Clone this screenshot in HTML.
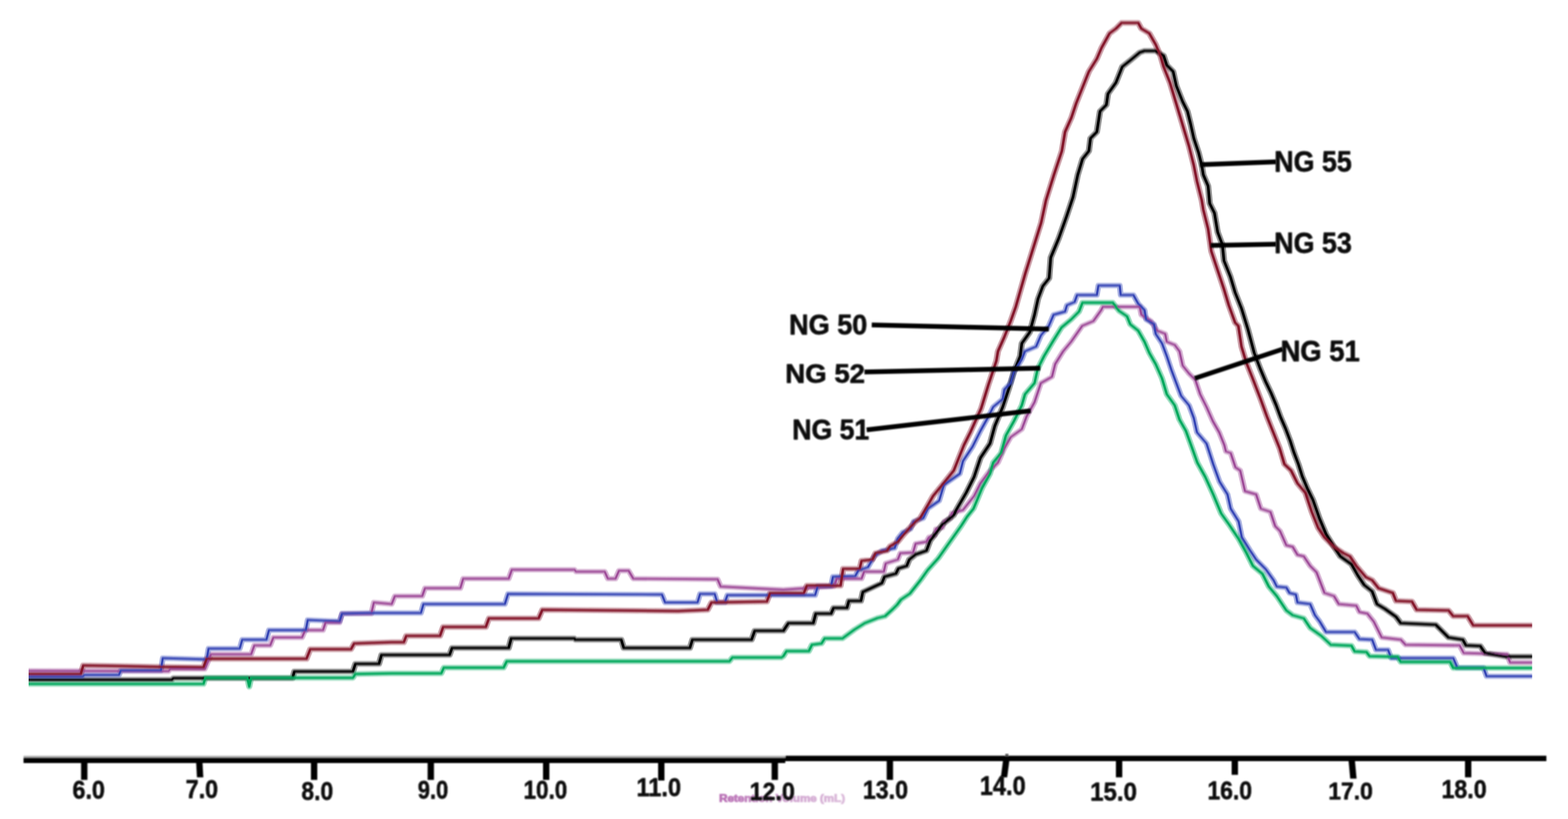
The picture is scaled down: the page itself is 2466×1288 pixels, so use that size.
<!DOCTYPE html>
<html lang="en">
<head>
<meta charset="utf-8">
<title>GPC chromatogram</title>
<style>
html,body{margin:0;padding:0;background:#fff;overflow:hidden;}
body{width:2466px;height:1288px;overflow:hidden;}
svg{display:block;}
text{font-family:"Liberation Sans",sans-serif;font-weight:bold;}
</style>
</head>
<body>
<svg width="2466" height="1288" viewBox="0 0 2466 1288">
<defs>
<filter id="soft" x="-2%" y="-2%" width="104%" height="104%"><feGaussianBlur stdDeviation="0.8"/></filter>
<filter id="softv" x="-2%" y="-2%" width="104%" height="104%"><feGaussianBlur stdDeviation="0.6 1.2"/></filter>
<linearGradient id="pinkg" gradientUnits="userSpaceOnUse" x1="1131" y1="0" x2="1330" y2="0"><stop offset="0" stop-color="#b970b5"/><stop offset="0.3" stop-color="#c58cc3"/><stop offset="0.6" stop-color="#d3a9d2"/><stop offset="1" stop-color="#dcbcdb"/></linearGradient>
<filter id="soft3" x="-5%" y="-20%" width="110%" height="140%"><feGaussianBlur stdDeviation="1.3"/></filter>
<filter id="soft2" x="-5%" y="-20%" width="110%" height="140%"><feGaussianBlur stdDeviation="1.1"/></filter>
</defs>
<rect x="0" y="0" width="2466" height="1288" fill="#ffffff"/>

<g transform="scale(1.15,1)" filter="url(#softv)" fill="none" stroke-linejoin="round" stroke-linecap="butt" stroke-opacity="0.42">
<polyline points="39.13,1055 230.43,1055.5 233.04,1052 280.00,1052 288.70,1029 343.48,1029 347.83,1015 369.57,1015 373.91,1002.5 413.04,1002.5 417.39,991 441.74,991 445.22,979 464.35,979 467.83,965 507.83,965 511.30,947.5 535.65,950 540.00,937.5 577.39,937.5 581.30,925 629.57,925 633.48,910 695.65,910 700.00,896 785.65,896 787.83,899 826.96,899 831.30,910 841.74,910 846.52,897.5 859.57,897.5 866.09,910 981.30,911 985.65,922.5 1071.30,927.5 1140.87,922 1144.35,910 1178.26,910 1181.74,899 1208.70,899 1211.30,886 1227.83,880 1231.30,870 1248.70,869 1252.17,855 1266.96,852 1270.43,845 1278.26,842 1280.00,832 1288.70,830 1291.30,820 1300.00,815 1301.74,807 1316.96,802 1332.17,780 1340.87,760 1353.91,740 1364.78,727.5 1373.48,705 1382.17,687.5 1397.39,675 1403.91,655 1414.78,632.5 1423.48,602.5 1438.70,592.5 1443.04,572.5 1453.91,552.5 1464.78,537.5 1480.00,512.5 1495.22,505 1506.09,487.5 1508.26,482.5 1558.70,482.5 1560.87,495 1573.91,505 1582.61,520 1593.48,525 1595.65,537.5 1606.52,542.5 1613.04,552.5 1617.39,575 1626.09,587.5 1634.78,597.5 1641.30,620 1650.00,640 1658.70,662.5 1667.39,680 1674.35,700 1676.52,710 1683.04,712.5 1689.57,735 1696.09,740 1702.61,772.5 1717.83,777.5 1724.35,800 1737.39,805 1743.91,827.5 1750.43,835 1759.13,857.5 1767.83,860 1774.35,872.5 1783.04,875 1791.74,890 1800.43,900 1811.30,932.5 1824.35,937.5 1830.87,950 1854.78,952.5 1859.13,962.5 1870.00,965 1878.70,977.5 1889.57,1002.5 1915.65,1006 1922.17,1014 1996.09,1015 2001.74,1027 2060.87,1029 2065.22,1042 2095.22,1042" stroke="#9d4a97" stroke-width="7.9"/>
<polyline points="39.13,1069 234.78,1069 237.39,1066.5 400.00,1066.5 402.61,1056 482.61,1056 486.09,1044 518.26,1044 521.74,1030 535.65,1030 614.78,1030 618.26,1019 695.65,1019 699.13,1004 785.22,1004 786.96,1006 849.57,1006 853.04,1019 943.48,1019 946.96,1006 1027.83,1006 1032.17,992 1071.30,992 1078.26,980 1112.17,980 1115.65,965 1136.52,965 1140.00,956 1158.26,956 1160.87,945 1177.39,945 1180.00,931 1194.78,923 1206.09,917 1209.57,907 1225.22,902 1228.70,894 1240.00,890 1243.48,880 1252.17,872 1266.96,866 1272.17,850 1288.70,825 1304.35,810 1308.70,800 1321.30,775 1332.17,750 1340.87,720 1353.91,697.5 1360.43,670 1371.30,640 1380.00,610 1386.52,585 1395.22,560 1397.39,540 1408.26,522.5 1414.78,495 1419.57,470 1426.09,450 1434.78,437.5 1436.96,405 1447.83,375 1458.70,340 1467.39,310 1473.91,275 1480.43,250 1489.13,237.5 1491.30,217.5 1500.00,207.5 1504.35,175 1513.04,165 1515.22,147.5 1526.09,130 1534.78,105 1545.65,95 1558.70,82.5 1565.22,80 1580.00,80 1591.30,87.5 1595.65,102.5 1604.35,112.5 1608.70,135 1617.39,160 1623.91,175 1628.26,195 1632.61,217.5 1639.13,240 1643.48,260 1645.65,275 1652.17,292.5 1654.35,320 1660.87,335 1665.22,365 1671.74,385 1673.91,410 1682.61,435 1689.13,460 1697.83,485 1706.52,517.5 1715.22,555 1723.48,580 1730.78,600 1738.26,618 1745.22,637 1751.30,656 1758.26,674.5 1764.35,693 1769.57,711.7 1775.65,730 1780.87,749 1787.83,768 1795.48,786 1804.35,815 1813.48,840 1824.35,860 1833.04,875 1848.26,887.5 1856.96,905 1865.65,920 1876.52,930 1883.04,950 1893.91,957.5 1909.13,970 1915.65,980 1963.48,982.5 1980.87,1002.5 2000.43,1006 2004.78,1015 2024.35,1016 2030.87,1027 2059.13,1032.5 2095.22,1032.5" stroke="#000000" stroke-width="8.7"/>
<polyline points="39.13,1064 113.04,1064 115.65,1061.5 162.61,1061.5 165.22,1054.5 220.00,1054.5 222.61,1035 282.61,1037 285.22,1020 327.83,1020 331.30,1006 364.35,1006 367.83,991 418.26,991 420.87,975 464.35,977 467.83,965 513.04,964 535.65,964 575.65,964 579.13,950 690.43,950 694.78,934 905.22,935 909.57,947.5 953.91,947.5 957.39,934 977.39,934 980.87,947.5 991.30,947.5 994.78,936 1071.30,936 1114.78,936 1118.26,922 1136.52,922 1139.13,907 1169.57,906 1173.91,897 1186.96,892 1195.65,875 1206.09,866 1223.48,862 1227.83,847 1234.78,837 1245.22,832 1249.57,820 1262.61,815 1268.70,800 1284.35,787.5 1290.87,762.5 1312.61,745 1316.96,725 1330.00,702.5 1340.87,677.5 1351.74,655 1358.26,640 1371.30,627.5 1373.48,612.5 1382.17,602.5 1386.52,585 1397.39,565 1401.74,552.5 1416.96,545 1423.48,527.5 1434.35,512.5 1440.87,495 1456.52,490 1459.13,480 1469.57,475 1473.04,464 1500.00,464 1502.17,449 1531.30,449 1532.61,464 1550.00,464 1556.52,477.5 1565.22,487.5 1567.39,502.5 1578.26,510 1580.43,525 1589.13,540 1595.65,560 1602.17,582.5 1608.70,602.5 1615.22,622.5 1626.09,637.5 1632.61,657.5 1636.96,680 1650.00,697.5 1659.13,730 1667.83,757.5 1678.70,777.5 1683.04,800 1693.91,820 1698.26,845 1709.13,865 1717.83,880 1730.87,895 1741.74,912.5 1746.09,922.5 1759.13,924 1763.48,932.5 1772.17,935 1774.35,947.5 1791.74,950 1798.26,967.5 1804.78,977.5 1813.48,994 1852.61,994 1859.13,1005 1876.52,1006 1881.74,1022 1898.26,1022 1902.61,1035 1987.39,1035 1993.04,1050 2028.70,1050 2033.04,1063.5 2095.22,1063.5" stroke="#3343b4" stroke-width="7.9"/>
<polyline points="39.13,1075.7 278.26,1075.7 280.87,1066 338.26,1066 340.87,1080 343.48,1066 482.61,1066 486.09,1060 535.65,1059 603.48,1059 606.96,1050 688.70,1050 693.04,1040 997.39,1040 1001.74,1034 1068.70,1034 1071.30,1032 1075.65,1024 1106.09,1024 1110.43,1014 1123.48,1012 1127.83,1004 1152.17,1004 1168.70,990 1182.61,980 1200.00,972 1210.43,969 1220.87,958 1226.96,951 1232.17,943 1244.35,933.5 1259.13,912 1268.70,896.5 1283.48,877.5 1294.78,859 1304.35,843.5 1314.78,826.5 1322.61,812.5 1331.30,800 1343.04,767.5 1353.91,745 1358.26,727.5 1369.13,712.5 1375.65,685 1386.52,662.5 1397.39,637.5 1401.74,620 1414.78,602.5 1419.13,580 1427.83,560 1440.87,535 1451.74,515 1464.78,502.5 1475.65,490 1480.43,476 1521.74,476 1530.43,489 1541.30,497.5 1545.65,510 1556.52,520 1565.22,537.5 1571.74,555 1580.43,572.5 1589.13,595 1595.65,620 1606.52,637.5 1613.04,660 1621.74,677.5 1630.43,705 1637.39,727.5 1648.26,750 1659.13,777.5 1670.00,807.5 1680.87,825 1693.91,847.5 1704.78,870 1713.48,890 1726.52,902.5 1735.22,922.5 1746.09,937.5 1759.13,960 1767.83,967.5 1783.04,972.5 1791.74,987.5 1806.96,1000 1820.00,1014 1848.26,1015.5 1852.61,1024.5 1868.70,1025.5 1873.04,1032 1911.30,1033 1915.65,1041 1983.04,1041 1987.39,1050.5 2095.22,1050.5" stroke="#00a85c" stroke-width="8.3"/>
<polyline points="39.13,1060 110.43,1060 113.91,1046.5 165.22,1047.5 217.39,1048.8 278.26,1049.5 282.61,1036 419.13,1036 424.35,1021 480.00,1021 484.35,1012 535.65,1010 552.17,1010 555.65,1000 601.74,1000 606.09,986 664.35,986 668.70,972.5 736.52,972.5 741.74,959 926.96,961 967.83,959 973.04,947.5 1048.70,946 1053.04,933 1071.30,933 1099.13,933 1103.48,921 1149.57,921 1153.04,894.5 1175.65,894.5 1178.26,882 1193.04,880 1197.39,870 1213.04,866 1217.39,859 1227.83,852 1234.78,842 1252.17,820 1258.26,815 1266.09,800 1276.09,780 1290.43,760 1304.35,740 1311.30,720 1318.26,700 1326.96,680 1334.78,660 1341.74,642.5 1351.74,605 1362.61,567.5 1364.78,552.5 1373.48,530 1382.17,505 1389.13,482.5 1402.17,430 1413.04,390 1423.91,350 1430.43,315 1441.30,275 1452.17,237.5 1456.52,207.5 1465.22,185 1471.74,162.5 1480.43,137.5 1489.13,112.5 1500.00,92.5 1506.52,75 1517.39,52.5 1526.09,45 1533.91,36 1556.52,36 1560.87,45 1571.74,52.5 1580.43,70 1586.96,87.5 1591.30,105 1600.00,130 1606.52,155 1613.04,180 1619.57,205 1626.09,230 1632.61,260 1636.96,285 1643.48,315 1645.65,330 1652.17,360 1656.52,395 1665.22,425 1673.91,455 1680.43,480 1689.13,507.5 1693.48,512.5 1697.83,545 1704.35,570 1713.04,595 1723.91,627.5 1732.61,655 1741.30,680 1750.00,705 1756.52,730 1765.65,740 1774.35,760 1785.22,775 1793.91,805 1802.61,830 1811.30,845 1824.35,860 1837.39,870 1846.09,875 1854.78,890 1867.83,907.5 1876.52,912.5 1885.22,925 1904.78,932.5 1909.13,945 1930.87,946 1937.39,959 1980.87,960 1987.39,969 2006.96,969 2014.78,983.5 2095.22,983.5" stroke="#84172a" stroke-width="8.5"/>
</g>
<g transform="scale(1.15,1)" filter="url(#softv)" fill="none" stroke-linejoin="round" stroke-linecap="butt">
<polyline points="39.13,1055 230.43,1055.5 233.04,1052 280.00,1052 288.70,1029 343.48,1029 347.83,1015 369.57,1015 373.91,1002.5 413.04,1002.5 417.39,991 441.74,991 445.22,979 464.35,979 467.83,965 507.83,965 511.30,947.5 535.65,950 540.00,937.5 577.39,937.5 581.30,925 629.57,925 633.48,910 695.65,910 700.00,896 785.65,896 787.83,899 826.96,899 831.30,910 841.74,910 846.52,897.5 859.57,897.5 866.09,910 981.30,911 985.65,922.5 1071.30,927.5 1140.87,922 1144.35,910 1178.26,910 1181.74,899 1208.70,899 1211.30,886 1227.83,880 1231.30,870 1248.70,869 1252.17,855 1266.96,852 1270.43,845 1278.26,842 1280.00,832 1288.70,830 1291.30,820 1300.00,815 1301.74,807 1316.96,802 1332.17,780 1340.87,760 1353.91,740 1364.78,727.5 1373.48,705 1382.17,687.5 1397.39,675 1403.91,655 1414.78,632.5 1423.48,602.5 1438.70,592.5 1443.04,572.5 1453.91,552.5 1464.78,537.5 1480.00,512.5 1495.22,505 1506.09,487.5 1508.26,482.5 1558.70,482.5 1560.87,495 1573.91,505 1582.61,520 1593.48,525 1595.65,537.5 1606.52,542.5 1613.04,552.5 1617.39,575 1626.09,587.5 1634.78,597.5 1641.30,620 1650.00,640 1658.70,662.5 1667.39,680 1674.35,700 1676.52,710 1683.04,712.5 1689.57,735 1696.09,740 1702.61,772.5 1717.83,777.5 1724.35,800 1737.39,805 1743.91,827.5 1750.43,835 1759.13,857.5 1767.83,860 1774.35,872.5 1783.04,875 1791.74,890 1800.43,900 1811.30,932.5 1824.35,937.5 1830.87,950 1854.78,952.5 1859.13,962.5 1870.00,965 1878.70,977.5 1889.57,1002.5 1915.65,1006 1922.17,1014 1996.09,1015 2001.74,1027 2060.87,1029 2065.22,1042 2095.22,1042" stroke="#9d4a97" stroke-width="2.9"/>
<polyline points="39.13,1069 234.78,1069 237.39,1066.5 400.00,1066.5 402.61,1056 482.61,1056 486.09,1044 518.26,1044 521.74,1030 535.65,1030 614.78,1030 618.26,1019 695.65,1019 699.13,1004 785.22,1004 786.96,1006 849.57,1006 853.04,1019 943.48,1019 946.96,1006 1027.83,1006 1032.17,992 1071.30,992 1078.26,980 1112.17,980 1115.65,965 1136.52,965 1140.00,956 1158.26,956 1160.87,945 1177.39,945 1180.00,931 1194.78,923 1206.09,917 1209.57,907 1225.22,902 1228.70,894 1240.00,890 1243.48,880 1252.17,872 1266.96,866 1272.17,850 1288.70,825 1304.35,810 1308.70,800 1321.30,775 1332.17,750 1340.87,720 1353.91,697.5 1360.43,670 1371.30,640 1380.00,610 1386.52,585 1395.22,560 1397.39,540 1408.26,522.5 1414.78,495 1419.57,470 1426.09,450 1434.78,437.5 1436.96,405 1447.83,375 1458.70,340 1467.39,310 1473.91,275 1480.43,250 1489.13,237.5 1491.30,217.5 1500.00,207.5 1504.35,175 1513.04,165 1515.22,147.5 1526.09,130 1534.78,105 1545.65,95 1558.70,82.5 1565.22,80 1580.00,80 1591.30,87.5 1595.65,102.5 1604.35,112.5 1608.70,135 1617.39,160 1623.91,175 1628.26,195 1632.61,217.5 1639.13,240 1643.48,260 1645.65,275 1652.17,292.5 1654.35,320 1660.87,335 1665.22,365 1671.74,385 1673.91,410 1682.61,435 1689.13,460 1697.83,485 1706.52,517.5 1715.22,555 1723.48,580 1730.78,600 1738.26,618 1745.22,637 1751.30,656 1758.26,674.5 1764.35,693 1769.57,711.7 1775.65,730 1780.87,749 1787.83,768 1795.48,786 1804.35,815 1813.48,840 1824.35,860 1833.04,875 1848.26,887.5 1856.96,905 1865.65,920 1876.52,930 1883.04,950 1893.91,957.5 1909.13,970 1915.65,980 1963.48,982.5 1980.87,1002.5 2000.43,1006 2004.78,1015 2024.35,1016 2030.87,1027 2059.13,1032.5 2095.22,1032.5" stroke="#000000" stroke-width="3.7"/>
<polyline points="39.13,1064 113.04,1064 115.65,1061.5 162.61,1061.5 165.22,1054.5 220.00,1054.5 222.61,1035 282.61,1037 285.22,1020 327.83,1020 331.30,1006 364.35,1006 367.83,991 418.26,991 420.87,975 464.35,977 467.83,965 513.04,964 535.65,964 575.65,964 579.13,950 690.43,950 694.78,934 905.22,935 909.57,947.5 953.91,947.5 957.39,934 977.39,934 980.87,947.5 991.30,947.5 994.78,936 1071.30,936 1114.78,936 1118.26,922 1136.52,922 1139.13,907 1169.57,906 1173.91,897 1186.96,892 1195.65,875 1206.09,866 1223.48,862 1227.83,847 1234.78,837 1245.22,832 1249.57,820 1262.61,815 1268.70,800 1284.35,787.5 1290.87,762.5 1312.61,745 1316.96,725 1330.00,702.5 1340.87,677.5 1351.74,655 1358.26,640 1371.30,627.5 1373.48,612.5 1382.17,602.5 1386.52,585 1397.39,565 1401.74,552.5 1416.96,545 1423.48,527.5 1434.35,512.5 1440.87,495 1456.52,490 1459.13,480 1469.57,475 1473.04,464 1500.00,464 1502.17,449 1531.30,449 1532.61,464 1550.00,464 1556.52,477.5 1565.22,487.5 1567.39,502.5 1578.26,510 1580.43,525 1589.13,540 1595.65,560 1602.17,582.5 1608.70,602.5 1615.22,622.5 1626.09,637.5 1632.61,657.5 1636.96,680 1650.00,697.5 1659.13,730 1667.83,757.5 1678.70,777.5 1683.04,800 1693.91,820 1698.26,845 1709.13,865 1717.83,880 1730.87,895 1741.74,912.5 1746.09,922.5 1759.13,924 1763.48,932.5 1772.17,935 1774.35,947.5 1791.74,950 1798.26,967.5 1804.78,977.5 1813.48,994 1852.61,994 1859.13,1005 1876.52,1006 1881.74,1022 1898.26,1022 1902.61,1035 1987.39,1035 1993.04,1050 2028.70,1050 2033.04,1063.5 2095.22,1063.5" stroke="#3343b4" stroke-width="2.9"/>
<polyline points="39.13,1075.7 278.26,1075.7 280.87,1066 338.26,1066 340.87,1080 343.48,1066 482.61,1066 486.09,1060 535.65,1059 603.48,1059 606.96,1050 688.70,1050 693.04,1040 997.39,1040 1001.74,1034 1068.70,1034 1071.30,1032 1075.65,1024 1106.09,1024 1110.43,1014 1123.48,1012 1127.83,1004 1152.17,1004 1168.70,990 1182.61,980 1200.00,972 1210.43,969 1220.87,958 1226.96,951 1232.17,943 1244.35,933.5 1259.13,912 1268.70,896.5 1283.48,877.5 1294.78,859 1304.35,843.5 1314.78,826.5 1322.61,812.5 1331.30,800 1343.04,767.5 1353.91,745 1358.26,727.5 1369.13,712.5 1375.65,685 1386.52,662.5 1397.39,637.5 1401.74,620 1414.78,602.5 1419.13,580 1427.83,560 1440.87,535 1451.74,515 1464.78,502.5 1475.65,490 1480.43,476 1521.74,476 1530.43,489 1541.30,497.5 1545.65,510 1556.52,520 1565.22,537.5 1571.74,555 1580.43,572.5 1589.13,595 1595.65,620 1606.52,637.5 1613.04,660 1621.74,677.5 1630.43,705 1637.39,727.5 1648.26,750 1659.13,777.5 1670.00,807.5 1680.87,825 1693.91,847.5 1704.78,870 1713.48,890 1726.52,902.5 1735.22,922.5 1746.09,937.5 1759.13,960 1767.83,967.5 1783.04,972.5 1791.74,987.5 1806.96,1000 1820.00,1014 1848.26,1015.5 1852.61,1024.5 1868.70,1025.5 1873.04,1032 1911.30,1033 1915.65,1041 1983.04,1041 1987.39,1050.5 2095.22,1050.5" stroke="#00a85c" stroke-width="3.3"/>
<polyline points="39.13,1060 110.43,1060 113.91,1046.5 165.22,1047.5 217.39,1048.8 278.26,1049.5 282.61,1036 419.13,1036 424.35,1021 480.00,1021 484.35,1012 535.65,1010 552.17,1010 555.65,1000 601.74,1000 606.09,986 664.35,986 668.70,972.5 736.52,972.5 741.74,959 926.96,961 967.83,959 973.04,947.5 1048.70,946 1053.04,933 1071.30,933 1099.13,933 1103.48,921 1149.57,921 1153.04,894.5 1175.65,894.5 1178.26,882 1193.04,880 1197.39,870 1213.04,866 1217.39,859 1227.83,852 1234.78,842 1252.17,820 1258.26,815 1266.09,800 1276.09,780 1290.43,760 1304.35,740 1311.30,720 1318.26,700 1326.96,680 1334.78,660 1341.74,642.5 1351.74,605 1362.61,567.5 1364.78,552.5 1373.48,530 1382.17,505 1389.13,482.5 1402.17,430 1413.04,390 1423.91,350 1430.43,315 1441.30,275 1452.17,237.5 1456.52,207.5 1465.22,185 1471.74,162.5 1480.43,137.5 1489.13,112.5 1500.00,92.5 1506.52,75 1517.39,52.5 1526.09,45 1533.91,36 1556.52,36 1560.87,45 1571.74,52.5 1580.43,70 1586.96,87.5 1591.30,105 1600.00,130 1606.52,155 1613.04,180 1619.57,205 1626.09,230 1632.61,260 1636.96,285 1643.48,315 1645.65,330 1652.17,360 1656.52,395 1665.22,425 1673.91,455 1680.43,480 1689.13,507.5 1693.48,512.5 1697.83,545 1704.35,570 1713.04,595 1723.91,627.5 1732.61,655 1741.30,680 1750.00,705 1756.52,730 1765.65,740 1774.35,760 1785.22,775 1793.91,805 1802.61,830 1811.30,845 1824.35,860 1837.39,870 1846.09,875 1854.78,890 1867.83,907.5 1876.52,912.5 1885.22,925 1904.78,932.5 1909.13,945 1930.87,946 1937.39,959 1980.87,960 1987.39,969 2006.96,969 2014.78,983.5 2095.22,983.5" stroke="#84172a" stroke-width="3.5"/>
</g>
<g filter="url(#soft)">
<rect x="37" y="1188.5" width="1198" height="3.5" fill="#b4b4b4"/>
<rect x="37" y="1191.5" width="1198" height="8.5" fill="#000"/>
<rect x="1235" y="1188.5" width="1197" height="8.5" fill="#000"/>
<polygon points="127.5,1195 137.5,1195 137.5,1226.5 127.5,1226.5" fill="#000"/>
<polygon points="308.25,1195 318.25,1195 319.75,1222.5 309.75,1222.5" fill="#000"/>
<polygon points="489,1195 499,1195 499,1226.5 489,1226.5" fill="#000"/>
<polygon points="672.5,1195 682.5,1195 682.5,1226.5 672.5,1226.5" fill="#000"/>
<polygon points="854,1195 864,1195 864,1226.5 854,1226.5" fill="#000"/>
<polygon points="1035,1195 1045,1195 1045,1227.5 1035,1227.5" fill="#000"/>
<polygon points="1213.5,1195 1223.5,1195 1223.5,1226.5 1213.5,1226.5" fill="#000"/>
<polygon points="1394.5,1192 1404.5,1192 1404.5,1226.5 1394.5,1226.5" fill="#000"/>
<polygon points="1578,1192 1588,1192 1584,1222.5 1574,1222.5" fill="#000"/>
<polygon points="1755,1192 1765,1192 1765,1222.5 1755,1222.5" fill="#000"/>
<polygon points="1937,1192 1947,1192 1947,1218.5 1937,1218.5" fill="#000"/>
<polygon points="2120.5,1192 2130.5,1192 2133.5,1224.5 2123.5,1224.5" fill="#000"/>
<polygon points="2304,1192 2314,1192 2314,1222.5 2304,1222.5" fill="#000"/>
<rect x="1581" y="1185.5" width="5" height="4" fill="#555"/>
</g>
<g filter="url(#soft)" stroke="#000" stroke-width="7.4" stroke-linecap="butt">
<line x1="1887.5" y1="259" x2="2007" y2="254.5"/>
<line x1="1904" y1="386" x2="2007" y2="384"/>
<line x1="1879" y1="595" x2="2017.5" y2="549"/>
<line x1="1371" y1="511" x2="1649.5" y2="517.5"/>
<line x1="1359.5" y1="585" x2="1636" y2="579"/>
<line x1="1363" y1="676" x2="1621" y2="646"/>
</g>
<g filter="url(#soft3)"><text x="1131" y="1261" font-size="16" textLength="198" lengthAdjust="spacingAndGlyphs" fill="url(#pinkg)" stroke="url(#pinkg)" stroke-width="1.2">Retention Volume (mL)</text></g>
<g filter="url(#soft2)" fill="#0a0a0a" stroke="#0a0a0a" stroke-width="0.8" stroke-linejoin="round">
<text x="114" y="1256" font-size="40.5" textLength="51" lengthAdjust="spacingAndGlyphs">6.0</text>
<text x="292" y="1255" font-size="40.5" textLength="51" lengthAdjust="spacingAndGlyphs">7.0</text>
<text x="474" y="1258" font-size="40.5" textLength="50" lengthAdjust="spacingAndGlyphs">8.0</text>
<text x="657" y="1256" font-size="40.5" textLength="48" lengthAdjust="spacingAndGlyphs">9.0</text>
<text x="823.5" y="1256" font-size="40.5" textLength="68.5" lengthAdjust="spacingAndGlyphs">10.0</text>
<text x="1001" y="1252" font-size="39.8" textLength="70" lengthAdjust="spacingAndGlyphs">11.0</text>
<text x="1179" y="1258" font-size="39.1" textLength="71" lengthAdjust="spacingAndGlyphs">12.0</text>
<text x="1357" y="1256" font-size="40.5" textLength="71" lengthAdjust="spacingAndGlyphs">13.0</text>
<text x="1541" y="1250" font-size="41.9" textLength="72" lengthAdjust="spacingAndGlyphs">14.0</text>
<text x="1714.5" y="1258.5" font-size="39.8" textLength="73.5" lengthAdjust="spacingAndGlyphs">15.0</text>
<text x="1899" y="1257" font-size="39.8" textLength="70" lengthAdjust="spacingAndGlyphs">16.0</text>
<text x="2089" y="1257" font-size="37.7" textLength="70" lengthAdjust="spacingAndGlyphs">17.0</text>
<text x="2267" y="1255" font-size="40.5" textLength="71" lengthAdjust="spacingAndGlyphs">18.0</text>
</g>
<g filter="url(#soft3)" fill="#0a0a0a" stroke="#0a0a0a" stroke-width="0.9" stroke-linejoin="round">
<text x="2004" y="269.5" font-size="45.4" textLength="122" lengthAdjust="spacingAndGlyphs" xml:space="preserve">NG 55</text>
<text x="2004" y="398" font-size="45.4" textLength="122" lengthAdjust="spacingAndGlyphs" xml:space="preserve">NG 53</text>
<text x="2014" y="568" font-size="45.4" textLength="124.5" lengthAdjust="spacingAndGlyphs" xml:space="preserve">NG 51</text>
<text x="1241" y="525.5" font-size="44.7" textLength="123" lengthAdjust="spacingAndGlyphs" xml:space="preserve">NG 50</text>
<text x="1235" y="601.5" font-size="43.3" textLength="125.5" lengthAdjust="spacingAndGlyphs" xml:space="preserve">NG 52</text>
<text x="1246" y="690.5" font-size="44.7" textLength="121" lengthAdjust="spacingAndGlyphs" xml:space="preserve">NG 51</text>
</g>
</svg>
</body>
</html>
